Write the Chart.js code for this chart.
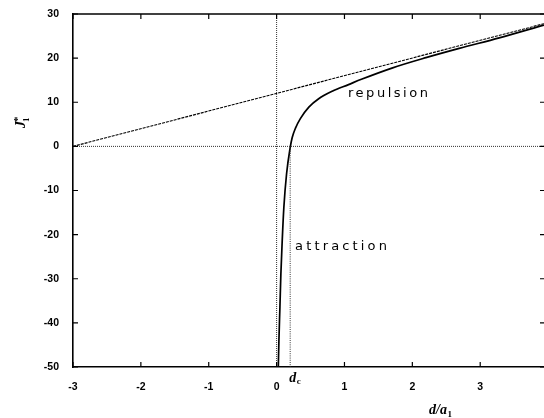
<!DOCTYPE html>
<html>
<head>
<meta charset="utf-8">
<script src="https://cdn.jsdelivr.net/npm/chart.js@4/dist/chart.umd.min.js"></script>
<style>
  html, body { margin: 0; padding: 0; background: #fff; }
  #wrap { width: 544px; height: 418px; position: relative; }
</style>
</head>
<body>
<div id="wrap"><canvas id="c" width="544" height="418"></canvas></div>
<script>
// ---- data ----
const xTicks = [-3, -2, -1, 0, 1, 2, 3];
const yTicks = [-50, -40, -30, -20, -10, 0, 10, 20, 30];

const curveX = [0.025, 0.034, 0.049, 0.063, 0.083, 0.107, 0.147, 0.20, 0.23, 0.28, 0.35, 0.475, 0.62, 0.82, 1.06, 1.25, 1.71, 2.2, 2.69, 3.28, 3.94];
const curveY = [-50, -44, -36.4, -28.9, -21.3, -13.8, -6.2, -0.3, 2.0, 4.2, 6.3, 8.9, 10.8, 12.5, 14.0, 15.2, 17.8, 20.1, 22.2, 24.6, 27.5];

const lineX = [-3, 3.94];
const lineY = [0, 27.8];

const dc = 0.2;
const xMin = -3, xMax = 3.94, yMin = -50, yMax = 30;

const pts = (xs, ys) => xs.map((x, i) => ({ x: x, y: ys[i] }));

function spacedText(ctx, text, x, y, width) {
  ctx.letterSpacing = '0px';
  const w0 = ctx.measureText(text).width;
  const sp = (width - w0) / (text.length - 1);
  ctx.letterSpacing = sp.toFixed(2) + 'px';
  ctx.fillText(text, x, y);
  ctx.letterSpacing = '0px';
}

const frame = {
  id: 'frame',
  afterDraw(chart) {
    const ctx = chart.ctx;
    const a = chart.chartArea;
    const xs = chart.scales.x, ys = chart.scales.y;
    ctx.save();
    ctx.strokeStyle = '#000';
    ctx.lineWidth = 1.6;
    ctx.beginPath();
    ctx.moveTo(a.left, a.top);
    ctx.lineTo(a.right, a.top);
    ctx.stroke();
    ctx.lineWidth = 1.2;
    ctx.beginPath();
    xTicks.forEach(v => {
      const px = xs.getPixelForValue(v);
      ctx.moveTo(px, a.bottom); ctx.lineTo(px, a.bottom - 5);
      ctx.moveTo(px, a.top); ctx.lineTo(px, a.top + 5);
    });
    yTicks.forEach(v => {
      const py = ys.getPixelForValue(v);
      ctx.moveTo(a.left, py); ctx.lineTo(a.left + 5, py);
      ctx.moveTo(a.right, py); ctx.lineTo(a.right - 4, py);
    });
    ctx.stroke();

    ctx.fillStyle = '#000';
    ctx.textBaseline = 'alphabetic';
    ctx.textAlign = 'left';
    // y axis title J1*
    ctx.save();
    ctx.translate(23, 122);
    ctx.rotate(-Math.PI / 2);
    ctx.font = 'italic bold 14px "Liberation Serif"';
    ctx.fillText('J', -6, 2);
    ctx.font = 'bold 9px "Liberation Serif"';
    ctx.fillText('1', 0, 6);
    ctx.font = 'bold 11px "Liberation Serif"';
    ctx.fillText('*', 0, -2);
    ctx.restore();

    // x axis title d/a1
    ctx.font = 'italic bold 14px "Liberation Serif"';
    const wda = ctx.measureText('d/a').width;
    ctx.fillText('d/a', 429, 414);
    ctx.font = 'bold 9px "Liberation Serif"';
    ctx.fillText('1', 429 + wda + 0.5, 417);

    // d_c
    ctx.font = 'italic bold 14px "Liberation Serif"';
    const dpx = xs.getPixelForValue(dc);
    const wd = ctx.measureText('d').width;
    ctx.fillText('d', dpx - 1, 382);
    ctx.font = 'bold 9px "Liberation Serif"';
    ctx.fillText('c', dpx - 1 + wd + 0.5, 384);

    // annotations
    ctx.font = '13px "DejaVu Sans"';
    spacedText(ctx, 'repulsion', 348, 97, 80);
    spacedText(ctx, 'attraction', 295, 250, 92);
    ctx.restore();
  }
};

new Chart(document.getElementById('c'), {
  type: 'scatter',
  data: {
    datasets: [
      { data: pts([xMin, xMax], [0, 0]), showLine: true, borderColor: '#333', borderWidth: 1, borderDash: [1, 1], pointRadius: 0 },
      { data: pts([0, 0], [yMin, yMax]), showLine: true, borderColor: '#333', borderWidth: 1, borderDash: [1, 1], pointRadius: 0 },
      { data: pts([dc, dc], [0, yMin]), showLine: true, borderColor: '#333', borderWidth: 1, borderDash: [1, 1.2], pointRadius: 0 },
      { data: pts(lineX, lineY), showLine: true, borderColor: '#000', borderWidth: 1.1, borderDash: [3, 1], pointRadius: 0 },
      { data: pts(curveX, curveY), showLine: true, borderColor: '#000', borderWidth: 1.7, cubicInterpolationMode: 'monotone', pointRadius: 0 }
    ]
  },
  options: {
    responsive: false,
    animation: false,
    devicePixelRatio: 1,
    layout: { padding: { top: 14, right: 0, left: 0, bottom: 0 } },
    plugins: { legend: { display: false }, tooltip: { enabled: false } },
    scales: {
      x: {
        type: 'linear', min: xMin, max: xMax,
        afterBuildTicks: s => { s.ticks = xTicks.map(v => ({ value: v })); },
        afterFit: s => { s.height = 51; },
        grid: { display: false },
        border: { display: true, color: '#000', width: 1.6 },
        ticks: { color: '#000', font: { family: '"Liberation Sans"', size: 10.5, weight: 'bold' }, padding: 6, maxRotation: 0, autoSkip: false }
      },
      y: {
        type: 'linear', min: yMin, max: yMax,
        afterBuildTicks: s => { s.ticks = yTicks.map(v => ({ value: v })); },
        afterFit: s => { s.width = 73; },
        grid: { display: false },
        border: { display: true, color: '#000', width: 1.6 },
        ticks: { color: '#000', font: { family: '"Liberation Sans"', size: 10.5, weight: 'bold' }, padding: 6, autoSkip: false }
      }
    }
  },
  plugins: [frame]
});
</script>
</body>
</html>
